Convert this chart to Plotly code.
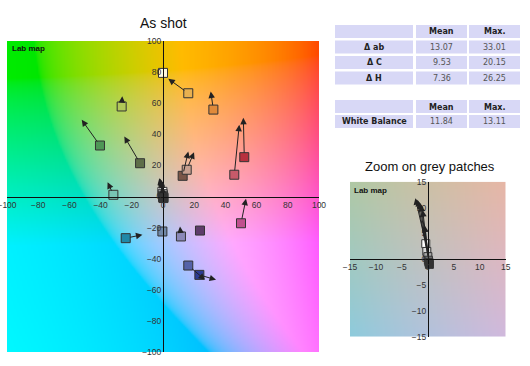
import base64
import struct
import zlib

import numpy as np
import plotly.graph_objects as go

# ---------------- data ----------------
patch_names = ["dark skin", "light skin", "blue sky", "foliage", "blue flower", "bluish green",
               "orange", "purplish blue", "moderate red", "purple", "yellow green", "orange yellow",
               "blue", "green", "red", "yellow", "magenta", "cyan"]
square_a = [12.6, 15.2, -0.4, -14.7, 11.5, -31.8, 32.3, 16.2, 45.7, 23.7, -26.5, 16.2, 23.3, -40.4, 52.1, 0.0, 50.0, -23.9]
square_b = [13.3, 17.2, -22.5, 21.4, -25.7, 1.1, 55.9, -44.4, 14.0, -21.9, 57.9, 66.4, -50.4, 32.8, 25.3, 79.5, -17.2, -26.8]
tip_a = [16.2, 19.9, -0.4, -24.8, 10.9, -35.5, 30.6, 27.0, 48.9, 23.7, -26.1, 3.4, 34.0, -52.1, 51.5, -2.5, 53.2, -13.2]
tip_b = [28.9, 28.5, -22.5, 38.6, -19.3, 9.2, 67.5, -53.6, 46.1, -18.6, 64.5, 75.7, -53.6, 49.3, 50.6, 79.8, -1.5, -24.6]
patch_colors = ["#7a5648", "#c8a090", "#7088a8", "#5e6e48", "#8a88b8", "#78c4b4",
                "#e08a3a", "#5462a8", "#c85a6a", "#5e3c6a", "#b0c858", "#e8b050",
                "#2c3c94", "#4e9656", "#b8303e", "#fff8e0", "#c0508e", "#2088a8"]

grey_names = ["white", "neutral 8", "neutral 6.5", "neutral 5", "neutral 3.5", "black"]
grey_a = [-0.4, -0.2, 0.0, 0.1, 0.2, 0.3]
grey_b = [3.0, 1.5, 0.5, -0.2, -0.6, -1.0]
grey_tip_a = [-2.4, -2.0, -1.6, -1.3, -1.0, -0.6]
grey_tip_b = [11.8, 11.5, 11.0, 10.5, 9.5, 6.5]
grey_colors = ["#ffffff", "#d8d8d8", "#a8a8a8", "#7a7a7a", "#555555", "#333333"]

main_ticks = [-100, -80, -60, -40, -20, 0, 20, 40, 60, 80, 100]
zoom_ticks = [-15, -10, -5, 0, 5, 10, 15]

table_header = ["", "Mean", "Max."]
table_rows = ["Δ ab", "Δ C", "Δ H"]
table_mean = ["13.07", "9.53", "7.36"]
table_max = ["33.01", "20.15", "26.25"]
wb_rows = ["White Balance"]
wb_mean = ["11.84"]
wb_max = ["13.11"]


# ---------------- Lab background ----------------
def lab_to_rgb(L, a, b):
    fy = (L + 16.0) / 116.0
    fx = fy + a / 500.0
    fz = fy - b / 200.0

    def finv(t):
        return np.where(t > 6 / 29, t ** 3, 3 * (6 / 29) ** 2 * (t - 4 / 29))

    X = 0.95047 * finv(fx)
    Y = 1.0 * finv(fy)
    Z = 1.08883 * finv(fz)
    r = 3.2406 * X - 1.5372 * Y - 0.4986 * Z
    g = -0.9689 * X + 1.8758 * Y + 0.0415 * Z
    bl = 0.0557 * X - 0.2040 * Y + 1.0570 * Z
    rgb = np.stack([r, g, bl], axis=-1)
    rgb = np.clip(rgb, 0, 1)
    rgb = np.where(rgb <= 0.0031308, 12.92 * rgb, 1.055 * rgb ** (1 / 2.4) - 0.055)
    return np.clip(np.round(rgb * 255), 0, 255).astype(np.uint8)


def lab_png(lim, n, L):
    cs = np.linspace(-lim, lim, n)
    A, B = np.meshgrid(cs, cs[::-1])  # row 0 = top (b = +lim)
    arr = lab_to_rgb(np.full_like(A, L), A, B)
    h, w, _ = arr.shape
    raw = b"".join(b"\x00" + arr[i].tobytes() for i in range(h))

    def chunk(tag, data):
        c = struct.pack(">I", len(data)) + tag + data
        return c + struct.pack(">I", zlib.crc32(tag + data) & 0xFFFFFFFF)

    png = b"\x89PNG\r\n\x1a\n" + chunk(b"IHDR", struct.pack(">IIBBBBB", w, h, 8, 2, 0, 0, 0)) \
        + chunk(b"IDAT", zlib.compress(raw, 9)) + chunk(b"IEND", b"")
    return "data:image/png;base64," + base64.b64encode(png).decode()


W, H = 530, 366


def px(x):
    return x / W


def py(y):
    return 1 - y / H


fig = go.Figure()

marker_line = dict(color="#333333", width=1)

fig.add_trace(go.Scatter(x=square_a, y=square_b, mode="markers", text=patch_names,
                         marker=dict(symbol="square", size=9, color=patch_colors, line=marker_line),
                         xaxis="x", yaxis="y", showlegend=False))
fig.add_trace(go.Scatter(x=grey_a, y=grey_b, mode="markers", text=grey_names,
                         marker=dict(symbol="square", size=9, color=grey_colors, line=marker_line),
                         xaxis="x", yaxis="y", showlegend=False))
fig.add_trace(go.Scatter(x=grey_a, y=grey_b, mode="markers", text=grey_names,
                         marker=dict(symbol="square", size=8, color=grey_colors, line=marker_line),
                         xaxis="x2", yaxis="y2", showlegend=False))

annotations = []
shapes = []


def add_arrows(xs, ys, txs, tys, xr, yr):
    for x0, y0, x1, y1 in zip(xs, ys, txs, tys):
        if abs(x1 - x0) < 1e-9 and abs(y1 - y0) < 1e-9:
            continue
        annotations.append(dict(x=x1, y=y1, ax=x0, ay=y0, xref=xr, yref=yr, axref=xr, ayref=yr,
                                text="", showarrow=True, arrowhead=2, arrowsize=1.3,
                                arrowwidth=1, arrowcolor="#222222", startstandoff=3))


add_arrows(square_a, square_b, tip_a, tip_b, "x", "y")
add_arrows(grey_a, grey_b, grey_tip_a, grey_tip_b, "x", "y")
add_arrows(grey_a, grey_b, grey_tip_a, grey_tip_b, "x2", "y2")

main_x = [px(7), px(319)]
main_y = [py(352), py(41)]
zoom_x = [px(350), px(505.7)]
zoom_y = [py(336.7), py(181.7)]


def label(text, x, y, size, xanchor="center", family="Liberation Sans, Arial", color="#111111"):
    annotations.append(dict(text=text, x=px(x), y=py(y), xref="paper", yref="paper",
                            showarrow=False, xanchor=xanchor, yanchor="middle",
                            font=dict(family=family, size=size, color=color)))


label("As shot", 163, 23, 14)
label("Zoom on grey patches", 430, 166, 13)
label("<b>Lab map</b>", 10, 48, 8, xanchor="left")
label("<b>Lab map</b>", 352, 190, 8, xanchor="left")

# ---------------- tables (cells as shapes, text as annotations) ----------------
col_spans = [(335, 413), (416, 467), (469, 520)]
cell_fill = "#d8d8f6"
TFONT = "DejaVu Sans, Verdana"


def add_table(row_tops, row_h, header, labels, means, maxs):
    rows = [header] + [[lab, m, mx] for lab, m, mx in zip(labels, means, maxs)]
    for ri, (top, row) in enumerate(zip(row_tops, rows)):
        for ci, ((x0, x1), val) in enumerate(zip(col_spans, row)):
            shapes.append(dict(type="rect", xref="paper", yref="paper", x0=px(x0), x1=px(x1),
                               y0=py(top + row_h), y1=py(top), fillcolor=cell_fill,
                               line=dict(width=0), layer="below"))
            if val:
                bold = ri == 0 or ci == 0
                label("<b>%s</b>" % val if bold else val, (x0 + x1) / 2, top + row_h / 2 + 0.5,
                      8, family=TFONT, color="#222222" if bold else "#555555")


add_table([25, 40.5, 56, 71.5], 13, table_header, table_rows, table_mean, table_max)
add_table([100, 115], 13, table_header, wb_rows, wb_mean, wb_max)

images = [
    dict(source=lab_png(100, 200, 80), xref="x", yref="y", x=-100, y=100, sizex=200, sizey=200,
         sizing="stretch", layer="below", xanchor="left", yanchor="top"),
    dict(source=lab_png(15, 100, 78), xref="x2", yref="y2", x=-15, y=15, sizex=30, sizey=30,
         sizing="stretch", layer="below", xanchor="left", yanchor="top"),
]

tick_font = dict(family="Liberation Sans, Arial", size=8.5, color="#333333")
ax_common = dict(showgrid=False, zeroline=False, showline=True, linecolor="#111111", linewidth=1,
                 ticks="", tickfont=tick_font, anchor="free", automargin=False,
                 ticklabeloverflow="allow")

fig.update_layout(
    width=W, height=H, margin=dict(l=0, r=0, t=0, b=0, autoexpand=False),
    paper_bgcolor="white", plot_bgcolor="white", showlegend=False,
    xaxis=dict(ax_common, domain=main_x, range=[-100, 100], tickvals=main_ticks,
               position=(main_y[0] + main_y[1]) / 2),
    yaxis=dict(ax_common, domain=main_y, range=[-100, 100], tickvals=main_ticks,
               position=(main_x[0] + main_x[1]) / 2),
    xaxis2=dict(ax_common, domain=zoom_x, range=[-15, 15], tickvals=zoom_ticks,
                position=(zoom_y[0] + zoom_y[1]) / 2),
    yaxis2=dict(ax_common, domain=zoom_y, range=[-15, 15], tickvals=zoom_ticks,
                position=(zoom_x[0] + zoom_x[1]) / 2),
    images=images,
    shapes=shapes,
    annotations=annotations,
)

fig.write_html("out.html", config={"displayModeBar": False},
               post_script="document.body.style.margin='0px';")
